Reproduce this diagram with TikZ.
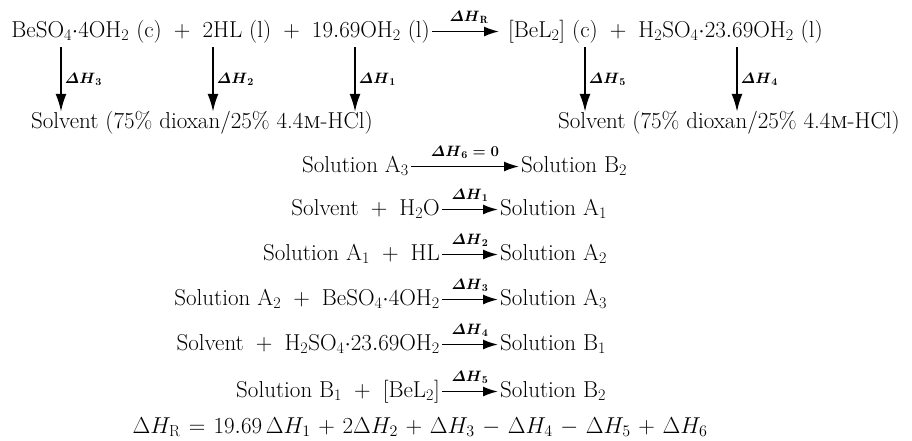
\RequirePackage{fix-cm}
\documentclass[tikz,border=0pt]{standalone}
\usepackage{fontspec}
\usetikzlibrary{arrows.meta}
\begin{document}
\begin{tikzpicture}[x=1pt,y=-1pt,
  txt/.style={inner xsep=2pt, inner ysep=0pt, text height=16pt, text depth=5pt, font=\fontsize{23}{27}\selectfont},
  lbl/.style={font=\fontsize{15}{17}\selectfont\boldmath, inner sep=2pt},
  harrow/.style={line width=1.7pt, -{Latex[length=15pt,width=10pt]}},
  varrow/.style={line width=1.9pt, -{Latex[length=18pt,width=11pt]}},
]
\useasboundingbox (0,0) rectangle (912,440);

% top reaction
\node[txt, anchor=east] (topL) at (432,31.5)
  {$\mathrm{BeSO_4{\cdot}4OH_2}$ (c) ${}+{}$ 2HL (l) ${}+{}$ $\mathrm{19.69OH_2}$ (l)};
\node[txt, anchor=west] (topR) at (506,31.5)
  {$[\mathrm{BeL_2}]$ (c) ${}+{}$ $\mathrm{H_2SO_4{\cdot}23.69OH_2}$ (l)};
\draw[harrow, shorten >=7pt] (topL) -- (topR)
  node[lbl, midway, above=5pt] {$\mathnormal{\Delta H}_\mathrm{R}$};

% solvents
\node[txt] (solvL) at (202,122.5) {Solvent (75\% dioxan/25\% 4.4\textsc{m}-HCl)};
\node[txt] (solvR) at (729,122.5) {Solvent (75\% dioxan/25\% 4.4\textsc{m}-HCl)};

% down arrows
\coordinate (d3) at (61,47);
\coordinate (d2) at (213,47);
\coordinate (d1) at (355,47);
\coordinate (d5) at (585,47);
\coordinate (d4) at (737,47);
\draw[varrow] (d3) -- (d3 |- solvL.north) node[lbl, midway, right=1pt] {$\mathnormal{\Delta H}_3$};
\draw[varrow] (d2) -- (d2 |- solvL.north) node[lbl, midway, right=1pt] {$\mathnormal{\Delta H}_2$};
\draw[varrow] (d1) -- (d1 |- solvL.north) node[lbl, midway, right=1pt] {$\mathnormal{\Delta H}_1$};
\draw[varrow] (d5) -- (d5 |- solvR.north) node[lbl, midway, right=1pt] {$\mathnormal{\Delta H}_5$};
\draw[varrow] (d4) -- (d4 |- solvR.north) node[lbl, midway, right=1pt] {$\mathnormal{\Delta H}_4$};

% A3 -> B2
\node[txt, anchor=east] (a3) at (411,166.5) {Solution $\mathrm{A_3}$};
\node[txt, anchor=west] (b2x) at (519,166.5) {Solution $\mathrm{B_2}$};
\draw[harrow] (a3) -- (b2x) node[lbl, midway, above=5pt] {$\mathnormal{\Delta H}_6 = 0$};

% step reactions
\node[txt, anchor=east] (r1L) at (442,209.5) {Solvent ${}+{}$ $\mathrm{H_2O}$};
\node[txt, anchor=west] (r1R) at (498,209.5) {Solution $\mathrm{A_1}$};
\draw[harrow] (r1L) -- (r1R) node[lbl, midway, above=5pt] {$\mathnormal{\Delta H}_1$};

\node[txt, anchor=east] (r2L) at (442,254.5) {Solution $\mathrm{A_1}$ ${}+{}$ HL};
\node[txt, anchor=west] (r2R) at (498,254.5) {Solution $\mathrm{A_2}$};
\draw[harrow] (r2L) -- (r2R) node[lbl, midway, above=5pt] {$\mathnormal{\Delta H}_2$};

\node[txt, anchor=east] (r3L) at (442,299.5) {Solution $\mathrm{A_2}$ ${}+{}$ $\mathrm{BeSO_4{\cdot}4OH_2}$};
\node[txt, anchor=west] (r3R) at (498,299.5) {Solution $\mathrm{A_3}$};
\draw[harrow] (r3L) -- (r3R) node[lbl, midway, above=5pt] {$\mathnormal{\Delta H}_3$};

\node[txt, anchor=east] (r4L) at (442,344.5) {Solvent ${}+{}$ $\mathrm{H_2SO_4{\cdot}23.69OH_2}$};
\node[txt, anchor=west] (r4R) at (498,344.5) {Solution $\mathrm{B_1}$};
\draw[harrow] (r4L) -- (r4R) node[lbl, midway, above=5pt] {$\mathnormal{\Delta H}_4$};

\node[txt, anchor=east] (r5L) at (442,391.5) {Solution $\mathrm{B_1}$ ${}+{}$ $[\mathrm{BeL_2}]$};
\node[txt, anchor=west] (r5R) at (498,391.5) {Solution $\mathrm{B_2}$};
\draw[harrow] (r5L) -- (r5R) node[lbl, midway, above=5pt] {$\mathnormal{\Delta H}_5$};

% overall
\node[txt] (eq) at (420,427.5)
  {\medmuskip=6mu\thickmuskip=6.5mu$\Delta H_\mathrm{R} = 19.69\,\Delta H_1 + 2\Delta H_2 + \Delta H_3 - \Delta H_4 - \Delta H_5 + \Delta H_6$};
\end{tikzpicture}
\end{document}
